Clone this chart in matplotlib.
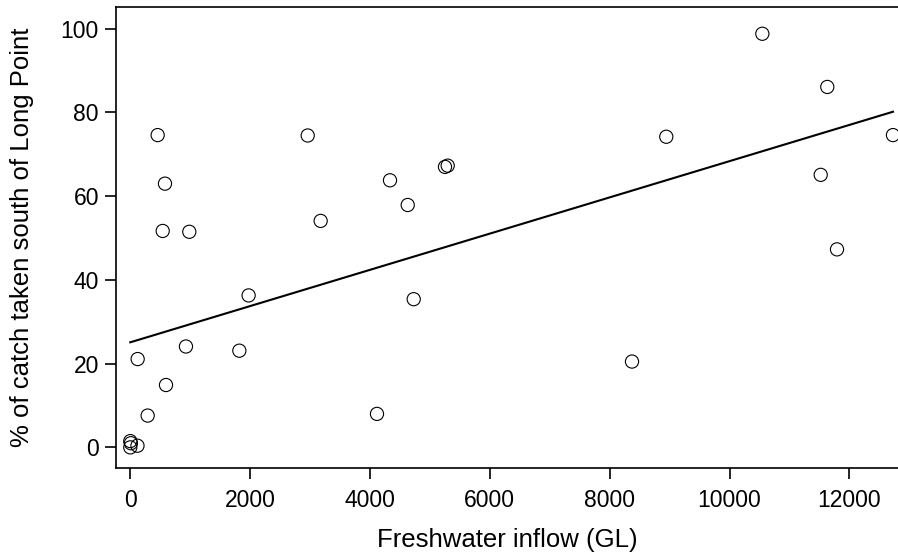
import matplotlib
matplotlib.use("Agg")
import matplotlib.pyplot as plt
import numpy as np

plt.rcParams['font.family'] = ['Liberation Sans', 'DejaVu Sans']

# freshwater inflow (GL) vs % of catch taken south of Long Point
inflow = [0, 10, 120, 0, 123, 290, 596, 457, 579, 541, 985, 929,
          1820, 1975, 2961, 3177, 4117, 4334, 4630, 4730, 5252, 5297,
          8373, 8945, 10548, 11522, 11632, 11794, 12728]
catch_pct = [1.5, 1.0, 0.4, 0.0, 21.1, 7.6, 14.9, 74.6, 63.0, 51.7, 51.5, 24.1,
             23.1, 36.3, 74.5, 54.1, 8.0, 63.8, 57.9, 35.4, 67.0, 67.3,
             20.5, 74.2, 98.8, 65.1, 86.1, 47.3, 74.6]

# fitted regression line
fit_intercept = 25.1
fit_slope = 0.004327

x_ticks = [0, 2000, 4000, 6000, 8000, 10000, 12000]
y_ticks = [0, 20, 40, 60, 80, 100]

fig = plt.figure(figsize=(8.98, 5.54), dpi=100)
ax = fig.add_axes([0.1288, 0.1558, 0.8712, 0.8316])

ax.scatter(inflow, catch_pct, s=90, facecolors='none', edgecolors='black',
           linewidths=0.8, zorder=3)

fx = np.array([min(inflow), max(inflow)])
ax.plot(fx, fit_intercept + fit_slope * fx, color='black', linewidth=1.5)

ax.set_xlim(-244, 12812)
ax.set_ylim(-4.85, 105.2)
ax.set_xticks(x_ticks)
ax.set_yticks(y_ticks)
ax.tick_params(direction='out', length=8, width=1.2, labelsize=16.5, pad=4)
ax.tick_params(axis='x', pad=7)
for s in ['left', 'bottom', 'top']:
    ax.spines[s].set_linewidth(1.2)
ax.spines['right'].set_visible(False)

ax.set_xlabel('Freshwater inflow (GL)', fontsize=18.5, va='center')
ax.xaxis.set_label_coords(0.5, -0.157)
ax.set_ylabel('% of catch taken south of Long Point', fontsize=18.5, va='center')
ax.yaxis.set_label_coords(-0.1198, 0.5)

fig.savefig('out.png', dpi=100)
